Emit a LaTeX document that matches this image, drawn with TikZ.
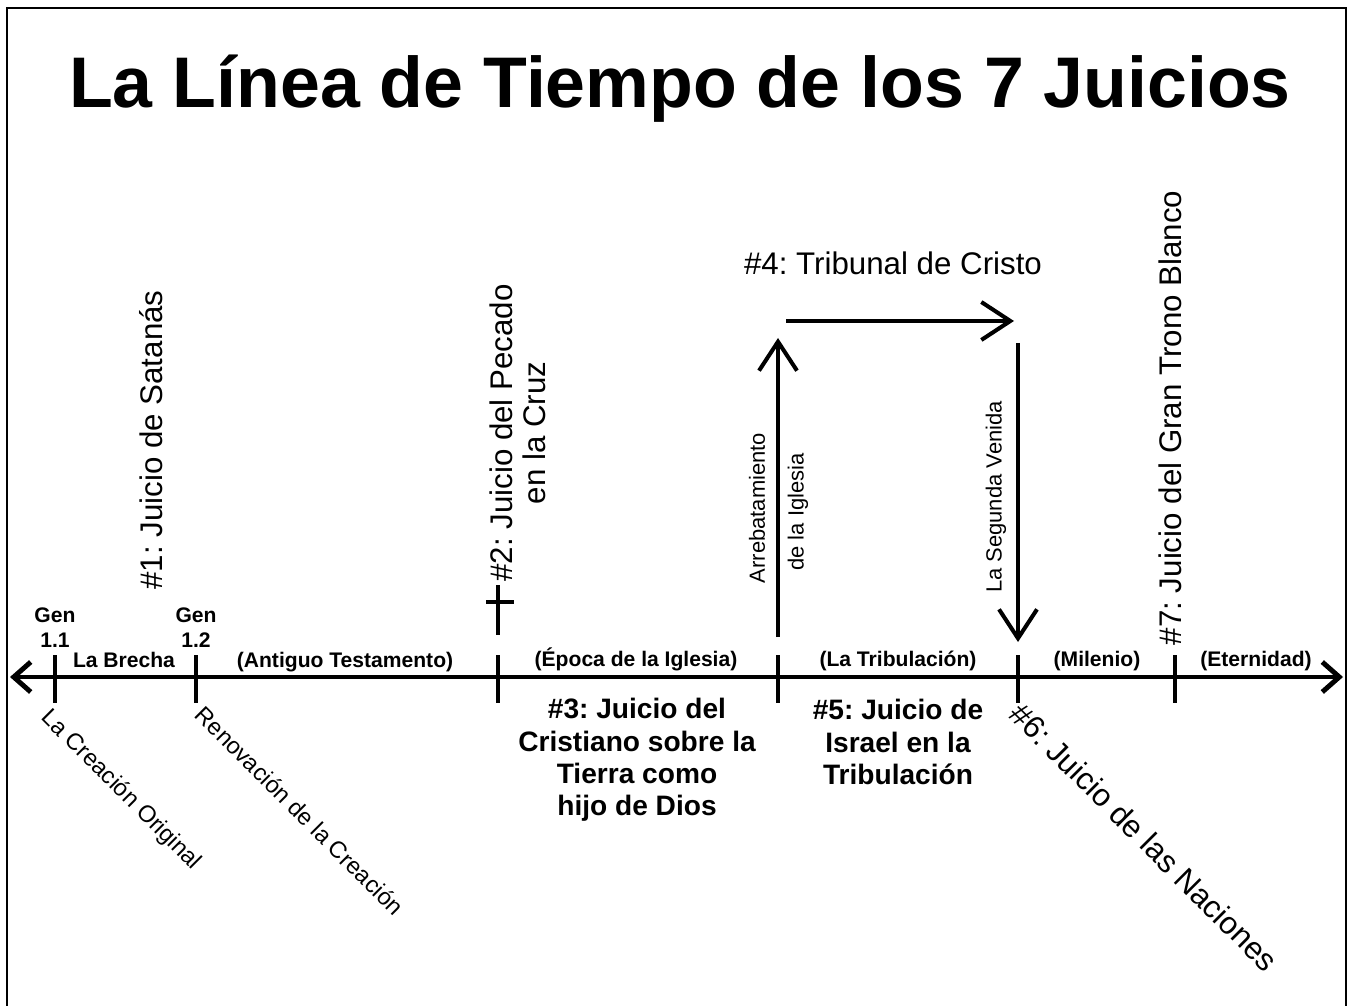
\documentclass[tikz,border=0pt]{standalone}
\usepackage{fontspec}
\setmainfont{Liberation Sans}
\usetikzlibrary{arrows.meta,positioning,calc}
\frenchspacing
\tikzset{
	headline/.style={
		font=\fontsize{40.8}{48}\selectfont\bfseries,
		inner sep=0pt,
		anchor=base,
	},
	era/.style={
		font=\fontsize{12}{14.2}\selectfont\bfseries,
		inner sep=0pt,
		anchor=base,
	},
	gen/.style={
		font=\fontsize{12}{14.2}\selectfont\bfseries,
		inner sep=0pt,
		align=center,
	},
	judgement/.style={
		font=\fontsize{17.8}{18.5}\selectfont,
		inner sep=0pt,
	},
	verdict/.style={
		font=\fontsize{16}{18.4}\selectfont\bfseries,
		inner sep=0pt,
		align=center,
	},
	event/.style={
		font=\fontsize{12.5}{14}\selectfont,
		inner sep=0pt,
		rotate=90,
	},
	origin/.style={
		font=\fontsize{13.4}{15}\selectfont,
		inner sep=0pt,
		rotate=-45,
		anchor=north west,
	},
	tickline/.style={
		line width=2.3pt,
	},
	timeline/.style={
		line width=2.8pt,
		{Straight Barb[length=3.4mm,width=6mm]}-{Straight Barb[length=3.4mm,width=6mm]},
	},
	jump/.style={
		line width=2.3pt,
		-{Straight Barb[length=5.8mm,width=7.6mm]},
	},
}

\begin{document}
\begin{tikzpicture}[x=0.02cm,y=-0.02cm]
	\useasboundingbox (0,0) rectangle (1348,1006);
	\draw[line width=1.2pt] (7,1006) -- (7,8) -- (1346,8) -- (1346,1006);
	
	\node [headline] (title) at (680,108) {La Línea de Tiempo de los 7 Juicios};
	
	% the time line and its marks
	\coordinate (tl-west) at (10,677);
	\coordinate (tl-east) at (1343,677);
	\draw[timeline] (tl-west) -- (tl-east);
	\foreach \x/\name in {55/gen1, 196/gen2, 498/cross, 778/rapture, 1018/advent, 1175/throne} {
		\coordinate (\name) at (\x,677);
		\draw[tickline] ($(\name)+(0,-22)$) -- ($(\name)+(0,26)$);
	}
	\draw[tickline] (498,585) -- (498,635);
	\draw[tickline] (486,602) -- (514,602);
	
	\node [gen] (gen1-label) at (55,628) {Gen\\1.1};
	\node [gen] (gen2-label) at (196,628) {Gen\\1.2};
	\node [era] (gap) at (124,667) {La Brecha};
	\node [era] (old) at (345,667) {(Antiguo Testamento)};
	\node [era] (church) at (636,666) {(Época de la Iglesia)};
	\node [era] (tribulation) at (898,666) {(La Tribulación)};
	\node [era] (millennium) at (1097,666) {(Milenio)};
	\node [era] (eternity) at (1256,666) {(Eternidad)};
	
	\node [origin] (creation) at (53,706) {La Creación Original};
	\node [origin] (renewal) at (206,704) {Renovación de la Creación};
	
	% rapture, judgement seat and second coming
	\coordinate (rapture-foot) at (778,637);
	\coordinate (rapture-top) at (778,338);
	\coordinate (bema-west) at (786,321);
	\coordinate (bema-east) at (1014,321);
	\coordinate (advent-top) at (1018,343);
	\coordinate (advent-foot) at (1018,642);
	\draw[jump] (rapture-foot) -- (rapture-top);
	\draw[jump] (bema-west) -- (bema-east);
	\draw[jump] (advent-top) -- (advent-foot);
	
	\node [event] (rapture-a) at (757,508) {Arrebatamiento};
	\node [event] (rapture-b) at (798,512) {de la Iglesia};
	\node [event] (advent-label) at (996,497) {La Segunda Venida};
	
	% the seven judgements
	\node [judgement, rotate=90] (j1) at (151,440) {\#1: Juicio de Satanás};
	\node [judgement, rotate=90, align=center] (j2) at (518,433) {\#2: Juicio del Pecado\\en la Cruz};
	\node [verdict] (j3) at (637,760) {\#3: Juicio del\\Cristiano sobre la\\Tierra como\\hijo de Dios};
	\node [judgement, anchor=base] (j4) at (893,275) {\#4: Tribunal de Cristo};
	\node [verdict] (j5) at (898,742) {\#5: Juicio de\\Israel en la\\Tribulación};
	\node [judgement, rotate=-45, anchor=north west] (j6) at (1024,700) {\#6: Juicio de las Naciones};
	\node [judgement, rotate=90] (j7) at (1170,418) {\#7: Juicio del Gran Trono Blanco};
\end{tikzpicture}
\end{document}
